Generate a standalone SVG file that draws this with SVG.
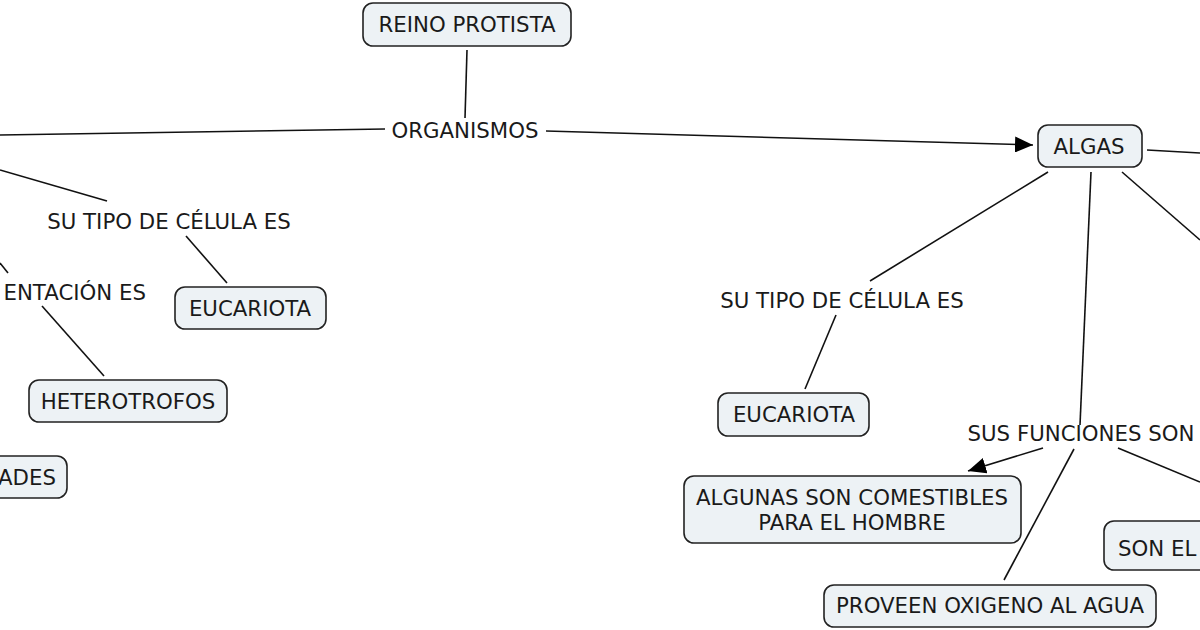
<svg xmlns="http://www.w3.org/2000/svg" width="1200" height="630" viewBox="0 0 1200 630">
<style>
.box{fill:#edf2f5;stroke:#222;stroke-width:1.6}
.t{font-family:"DejaVu Sans","Liberation Sans",sans-serif;font-size:21.3px;fill:#1a1a1a;text-anchor:middle}
.c line{stroke:#111;stroke-width:1.6}
</style>
<defs>
<marker id="arrL" viewBox="0 0 10 10" refX="10" refY="5" markerWidth="18" markerHeight="16" markerUnits="userSpaceOnUse" orient="auto" preserveAspectRatio="none">
<path d="M0,0 L10,5 L0,10 z" fill="#000"/>
</marker>
</defs>
<rect width="1200" height="630" fill="#fff"/>
<g class="c" id="connectors">
<line x1="467" y1="50" x2="465" y2="118"/>
<line x1="0" y1="135" x2="385" y2="129"/>
<line x1="546" y1="131" x2="1033" y2="145" marker-end="url(#arrL)"/>
<line x1="1147" y1="150" x2="1200" y2="153"/>
<line x1="1048" y1="172" x2="870" y2="281"/>
<line x1="836" y1="315" x2="805" y2="389"/>
<line x1="1091" y1="172" x2="1080" y2="425"/>
<line x1="1122" y1="172" x2="1200" y2="240"/>
<line x1="1043" y1="448" x2="968" y2="471" marker-end="url(#arrL)"/>
<line x1="1074" y1="449" x2="1004" y2="580"/>
<line x1="1118" y1="448" x2="1200" y2="482"/>
<line x1="0" y1="170" x2="107" y2="201"/>
<line x1="186" y1="236" x2="227" y2="283"/>
<line x1="0" y1="263" x2="8" y2="273"/>
<line x1="42" y1="306" x2="104" y2="376"/>
</g>
<g id="reino"><rect class="box" x="363" y="3" width="208" height="43" rx="10"/><text class="t" x="467" y="31.5">REINO PROTISTA</text></g>
<g id="organismos"><text class="t" x="465" y="137.5">ORGANISMOS</text></g>
<g id="algas"><rect class="box" x="1038" y="125" width="104" height="42" rx="10"/><text class="t" x="1089" y="153.5">ALGAS</text></g>
<g id="tipo-der"><text class="t" x="842" y="307.5">SU TIPO DE CÉLULA ES</text></g>
<g id="euca-der"><rect class="box" x="718" y="393" width="151" height="43" rx="10"/><text class="t" x="794" y="421.5">EUCARIOTA</text></g>
<g id="funciones"><text class="t" x="1081" y="440.5">SUS FUNCIONES SON</text></g>
<g id="algunas"><rect class="box" x="684" y="476" width="337" height="67" rx="10"/><text class="t" x="852" y="504.5">ALGUNAS SON COMESTIBLES</text><text class="t" x="852" y="529.5">PARA EL HOMBRE</text></g>
<g id="proveen"><rect class="box" x="824" y="585" width="332" height="42" rx="10"/><text class="t" x="990" y="612.5">PROVEEN OXIGENO AL AGUA</text></g>
<g id="sonel"><rect class="box" x="1104" y="521" width="110" height="49" rx="10"/><text class="t" x="1118" y="555.5" style="text-anchor:start">SON EL</text></g>
<g id="tipo-izq"><text class="t" x="169" y="228.5">SU TIPO DE CÉLULA ES</text></g>
<g id="euca-izq"><rect class="box" x="175" y="287" width="151" height="42" rx="10"/><text class="t" x="250" y="315.5">EUCARIOTA</text></g>
<g id="alimentacion"><text class="t" x="146" y="299.5" style="text-anchor:end">ENTACIÓN ES</text></g>
<g id="hetero"><rect class="box" x="29" y="380" width="198" height="42" rx="10"/><text class="t" x="128" y="408.5">HETEROTROFOS</text></g>
<g id="ades"><rect class="box" x="-12" y="456" width="79" height="42" rx="10"/><text class="t" x="56" y="484.5" style="text-anchor:end">ADES</text></g>
</svg>
